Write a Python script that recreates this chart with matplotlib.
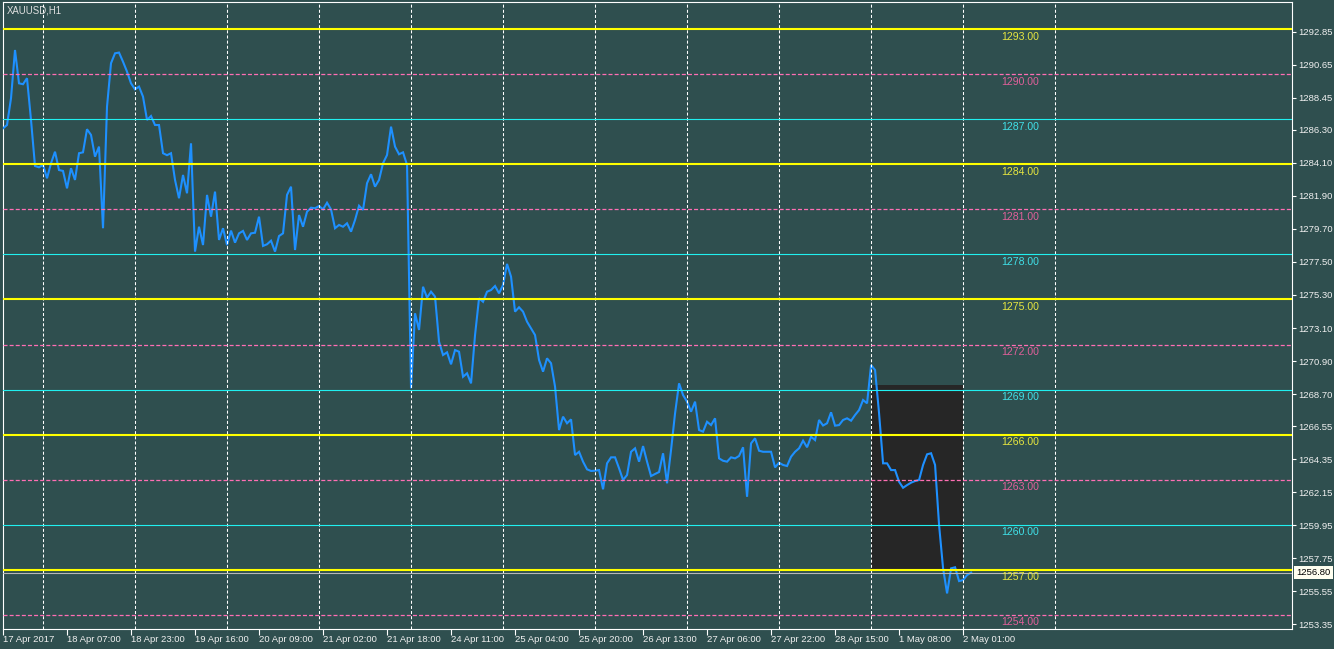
import numpy as np
import matplotlib
matplotlib.use("Agg")
import matplotlib.pyplot as plt
import matplotlib.transforms as mtransforms
from matplotlib.patches import Rectangle

plt.rcParams['font.family'] = ['Liberation Sans', 'DejaVu Sans']
plt.rcParams['lines.scale_dashes'] = False

# ---------------- data ----------------
symbol_title = "XAUUSD,H1"

closes = [
    1286.41, 1286.63, 1288.41, 1291.63, 1289.41, 1289.35, 1289.75, 1286.97, 1283.90, 1283.81,
    1283.97, 1283.08, 1284.08, 1284.85, 1283.63, 1283.57, 1282.41, 1283.75, 1282.97, 1284.75,
    1284.81, 1286.35, 1285.97, 1284.52, 1285.19, 1279.75, 1287.85, 1290.75, 1291.41, 1291.46,
    1290.85, 1290.19, 1289.41, 1289.01, 1289.19, 1288.52, 1286.97, 1287.23, 1286.63, 1286.63,
    1284.75, 1284.62, 1284.75, 1282.97, 1281.75, 1283.30, 1282.08, 1285.41, 1278.19, 1279.85,
    1278.63, 1281.97, 1280.52, 1282.19, 1278.97, 1279.75, 1278.63, 1279.59, 1278.79, 1279.41,
    1279.57, 1278.97, 1279.41, 1279.45, 1280.52, 1278.57, 1278.68, 1278.92, 1278.19, 1279.23,
    1279.41, 1281.97, 1282.52, 1278.30, 1280.63, 1279.85, 1280.85, 1281.12, 1281.08, 1281.23,
    1281.01, 1281.45, 1281.00, 1279.75, 1279.97, 1279.85, 1280.08, 1279.52, 1280.30, 1281.25,
    1280.97, 1282.75, 1283.35, 1282.52, 1282.97, 1284.08, 1284.63, 1286.52, 1285.19, 1284.68,
    1284.81, 1283.97, 1269.08, 1274.08, 1272.97, 1275.85, 1275.12, 1275.52, 1275.19, 1272.19,
    1271.30, 1271.48, 1270.68, 1271.63, 1271.52, 1269.85, 1270.08, 1269.41, 1272.63, 1275.08,
    1274.85, 1275.52, 1275.63, 1275.90, 1275.41, 1275.97, 1277.37, 1276.52, 1274.19, 1274.48,
    1274.19, 1273.52, 1273.08, 1272.63, 1270.97, 1270.19, 1271.08, 1270.75, 1269.19, 1266.30,
    1267.19, 1266.75, 1267.01, 1264.63, 1264.85, 1264.19, 1263.68, 1263.57, 1263.59, 1263.63,
    1262.35, 1264.08, 1264.48, 1264.48, 1263.75, 1262.97, 1263.30, 1264.85, 1265.08, 1264.19,
    1265.23, 1264.19, 1263.23, 1263.37, 1263.50, 1264.75, 1262.75, 1264.97, 1267.41, 1269.41,
    1268.63, 1268.19, 1267.52, 1268.19, 1266.30, 1266.19, 1266.85, 1266.63, 1267.08, 1264.41,
    1264.25, 1264.19, 1264.48, 1264.41, 1264.57, 1265.15, 1261.85, 1265.41, 1265.75, 1264.92,
    1264.85, 1264.85, 1264.85, 1263.81, 1264.12, 1263.97, 1263.90, 1264.52, 1264.85, 1265.08,
    1265.59, 1265.15, 1265.85, 1265.63, 1266.97, 1266.60, 1266.75, 1267.48, 1266.59, 1266.63,
    1266.97, 1267.08, 1266.92, 1267.30, 1267.63, 1268.30, 1268.08, 1270.63, 1270.30, 1267.41,
    1264.08, 1264.08, 1263.63, 1263.63, 1262.85, 1262.45, 1262.63, 1262.79, 1262.90, 1262.97,
    1263.97, 1264.68, 1264.75, 1263.97, 1259.97, 1257.08, 1255.41, 1257.08, 1257.15, 1256.23,
    1256.30, 1256.63, 1256.80,
]
current_price = 1256.80

yellow_levels = [1293.0, 1284.0, 1275.0, 1266.0, 1257.0]
pink_levels = [1290.0, 1281.0, 1272.0, 1263.0, 1254.0]
cyan_levels = [1287.0, 1278.0, 1269.0, 1260.0]

# rectangle object: (start bar, end bar, low, high)
rect_bars = (217, 240)
rect_prices = (1257.0, 1269.3)

y_ticks = [1292.85, 1290.65, 1288.45, 1286.30, 1284.10, 1281.90, 1279.70, 1277.50,
           1275.30, 1273.10, 1270.90, 1268.70, 1266.55, 1264.35, 1262.15, 1259.95,
           1257.75, 1255.55, 1253.35]

x_tick_labels = ["17 Apr 2017", "18 Apr 07:00", "18 Apr 23:00", "19 Apr 16:00",
                 "20 Apr 09:00", "21 Apr 02:00", "21 Apr 18:00", "24 Apr 11:00",
                 "25 Apr 04:00", "25 Apr 20:00", "26 Apr 13:00", "27 Apr 06:00",
                 "27 Apr 22:00", "28 Apr 15:00", "1 May 08:00", "2 May 01:00"]
bars_per_label = 16
grid_first, grid_step, grid_count = 10.1, 23, 12

# ---------------- style ----------------
BG = '#2F4F4F'
W, H = 1334, 649
fig = plt.figure(figsize=(W / 100, H / 100), dpi=100, facecolor=BG)
left_px, right_px, top_px, bottom_px = 2.7, 1291.5, 2.3, 628.5
ax = fig.add_axes([left_px / W, 1 - bottom_px / H,
                   (right_px - left_px) / W, (bottom_px - top_px) / H])
ax.set_facecolor(BG)

x = np.arange(len(closes))
ax.set_xlim(-0.075, 322.1)
ax.set_ylim(1253.07, 1294.81)

# rectangle
ax.add_patch(Rectangle((rect_bars[0], rect_prices[0]), rect_bars[1] - rect_bars[0],
                       rect_prices[1] - rect_prices[0], facecolor='#262626',
                       edgecolor='none', zorder=1))

# price line
ax.plot(x, closes, color='#1E90FF', lw=1.5, zorder=3, solid_joinstyle='miter')

# vertical grid
for k in range(grid_count):
    ax.axvline(grid_first + grid_step * k, color='white', lw=0.75,
               dashes=(2.2, 1.5), zorder=4)

# current price line
ax.axhline(current_price, color='#B8B8B8', lw=0.8, zorder=4)

lbl_x = 249.5
for v in yellow_levels:
    ax.axhline(v, color='#FFFF00', lw=1.5, zorder=5)
    ax.text(lbl_x, v - 0.47, f"{v:.2f}", color='#E6E640', fontsize=7.6,
            ha='left', va='center', zorder=6)
for v in pink_levels:
    ax.axhline(v, color='#FF6EB4', lw=0.9, dashes=(2.9, 1.5), zorder=5)
    ax.text(lbl_x, v - 0.47, f"{v:.2f}", color='#E0609A', fontsize=7.6,
            ha='left', va='center', zorder=6)
for v in cyan_levels:
    ax.axhline(v, color='#20F0F0', lw=0.8, zorder=5)
    ax.text(lbl_x, v - 0.47, f"{v:.2f}", color='#40E0E8', fontsize=7.6,
            ha='left', va='center', zorder=6)

# title
ax.text(4.3 / (right_px - left_px), 1 - 8.5 / (bottom_px - top_px), symbol_title,
        transform=ax.transAxes, color='#E0E0E0', fontsize=6.9, ha='left', va='center')

# spines
for s in ax.spines.values():
    s.set_color('white')
    s.set_linewidth(0.8)

# y axis on right
ax.yaxis.tick_right()
ax.set_yticks(y_ticks)
ax.set_yticklabels([f"{t:.2f}" for t in y_ticks])
ax.tick_params(axis='y', colors='white', labelcolor='#F0F0F0', labelsize=6.8,
               length=3, width=0.8, pad=2)

# x axis
ax.set_xticks([i * bars_per_label for i in range(len(x_tick_labels))])
ax.set_xticklabels(x_tick_labels, ha='left')
ax.tick_params(axis='x', colors='white', labelcolor='#F0F0F0', labelsize=6.8,
               length=4, width=0.8, pad=0.5)

# current price tag
trans = mtransforms.blended_transform_factory(ax.transAxes, ax.transData)
ax.text(1.0 + 5 / (right_px - left_px), current_price, f"{current_price:.2f}",
        transform=trans, color='black', fontsize=6.8, ha='left', va='center',
        bbox=dict(boxstyle='square,pad=0.25', facecolor='#FFFFF0', edgecolor='none'),
        clip_on=False, zorder=10)

fig.savefig('out.png', dpi=100, facecolor=BG)
